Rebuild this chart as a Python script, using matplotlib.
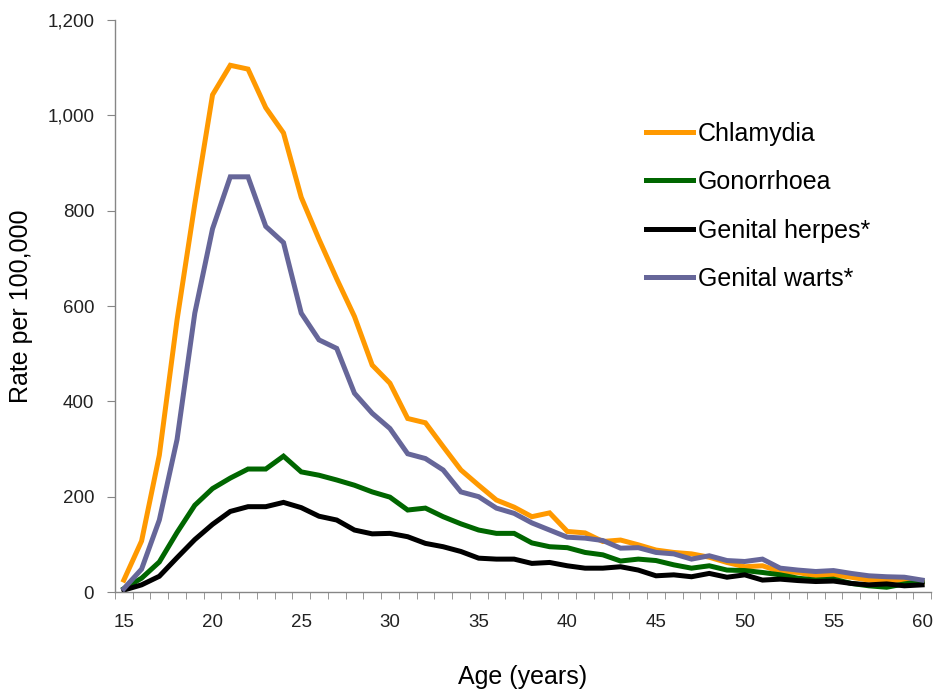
import numpy as np
import matplotlib
matplotlib.use("Agg")
import matplotlib.pyplot as plt
from matplotlib.ticker import FuncFormatter, MultipleLocator

ages = list(range(15, 61))

chlamydia = [25, 107, 287, 571, 814, 1043, 1105, 1097, 1016, 963,
             828, 740, 657, 578, 476, 438, 364, 355, 305, 256,
             224, 193, 178, 158, 166, 127, 124, 106, 109, 99,
             88, 83, 80, 73, 62, 53, 55, 43, 41, 34,
             36, 31, 25, 24, 25, 20]
gonorrhoea = [7, 29, 63, 125, 182, 217, 239, 258, 258, 285,
              252, 245, 235, 224, 210, 199, 172, 176, 158, 143,
              130, 123, 123, 103, 95, 93, 83, 78, 65, 69,
              66, 57, 50, 55, 46, 45, 41, 36, 29, 25,
              27, 18, 13, 10, 17, 22]
herpes = [4, 15, 33, 72, 110, 142, 169, 179, 179, 188,
          177, 159, 151, 130, 122, 123, 116, 102, 95, 85,
          71, 69, 69, 60, 62, 55, 50, 50, 53, 46,
          34, 36, 32, 39, 31, 36, 25, 27, 24, 22,
          23, 18, 15, 17, 13, 15]
warts = [7, 48, 151, 320, 585, 762, 871, 871, 767, 733,
         585, 529, 511, 417, 375, 343, 290, 280, 256, 210,
         200, 176, 165, 145, 130, 115, 113, 108, 92, 93,
         83, 80, 69, 76, 66, 64, 69, 50, 46, 43,
         45, 39, 34, 32, 31, 25]

series = [
    ("Chlamydia", chlamydia, "#FF9900"),
    ("Gonorrhoea", gonorrhoea, "#006600"),
    ("Genital herpes*", herpes, "#000000"),
    ("Genital warts*", warts, "#666699"),
]

plt.rcParams["font.family"] = ["Liberation Sans", "DejaVu Sans"]

fig = plt.figure(figsize=(9.37, 6.92), dpi=100)
ax = fig.add_axes([0.1227, 0.1445, 0.8709, 0.8266])

for name, vals, col in series:
    ax.plot(ages, vals, color=col, lw=3.6, label=name, solid_joinstyle="miter")

ax.set_xlim(14.5, 60.5)
ax.set_ylim(0, 1200)

ax.xaxis.set_major_locator(MultipleLocator(5))
ax.xaxis.set_minor_locator(MultipleLocator(1, offset=0.5))
ax.tick_params(axis="x", which="major", length=0, pad=16, labelsize=13.5, labelcolor="#222222")
ax.tick_params(axis="x", which="minor", length=5, direction="out", color="#868686")

ax.yaxis.set_major_locator(MultipleLocator(200))
ax.yaxis.set_major_formatter(FuncFormatter(lambda v, p: f"{int(v):,}"))
ax.tick_params(axis="y", length=6, direction="out", color="#868686", pad=9,
               labelsize=13.5, labelcolor="#222222")

for s in ["top", "right"]:
    ax.spines[s].set_visible(False)
for s in ["left", "bottom"]:
    ax.spines[s].set_color("#868686")
    ax.spines[s].set_linewidth(1)

ax.set_ylabel("Rate per 100,000", fontsize=18, labelpad=10)
ax.set_xlabel("Age (years)", fontsize=18, labelpad=24)

ax.legend(loc="upper left", bbox_to_anchor=(0.6894, 0.8244), bbox_transform=fig.transFigure,
          frameon=False, borderpad=0, borderaxespad=0,
          fontsize=18, handlelength=1.9, handletextpad=0.18, labelspacing=0.98)

fig.savefig("out.png", dpi=100)
